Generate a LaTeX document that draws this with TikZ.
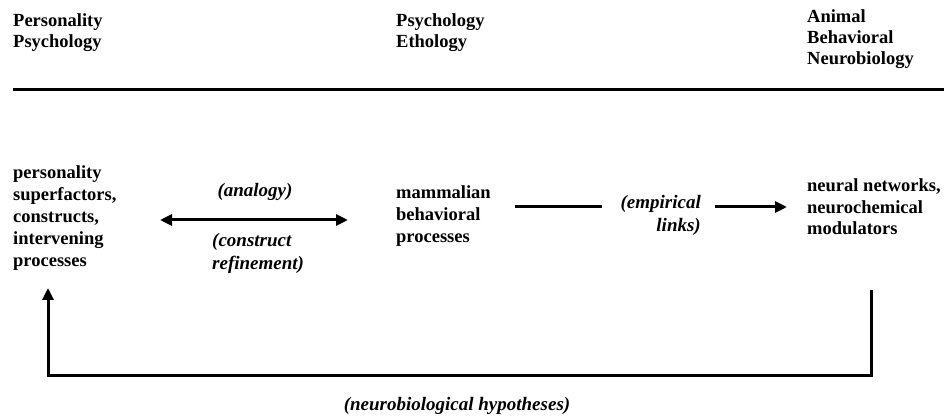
\documentclass[tikz,border=0pt]{standalone}
\usepackage{fontspec}
\setmainfont{Liberation Serif}
\usetikzlibrary{arrows.meta}

\begin{document}
\begin{tikzpicture}[x=1pt,y=-1pt,
    txt/.style={font=\fontsize{18.5}{22}\selectfont\bfseries, align=left, anchor=base west, inner sep=0pt},
    hdr/.style={txt, font=\fontsize{18.5}{21}\selectfont\bfseries},
    lbl/.style={font=\fontsize{19}{23}\selectfont\bfseries\itshape, inner sep=0pt},
    conn/.style={line width=3pt},
    tip/.style={-{Triangle[length=12pt,width=11pt]}}]
  \useasboundingbox (0,0) rectangle (944,419);
  % column headings (base = last line)
  \node[hdr] (perspsy) at (13,48) {Personality\\Psychology};
  \node[hdr] (etho) at (396,48) {Psychology\\Ethology};
  \node[hdr] (neurobio) at (807,65) {Animal\\Behavioral\\Neurobiology};
  \coordinate (rulel) at (13,90);
  \coordinate (ruler) at (944,90);
  \draw[conn] (rulel) -- (ruler);
  % levels
  \node[txt] (pers) at (13,267)
    {personality\\superfactors,\\constructs,\\intervening\\processes};
  \node[txt] (mamm) at (396,243)
    {mammalian\\behavioral\\processes};
  \node[txt, font=\fontsize{18.5}{21.5}\selectfont\bfseries] (neur) at (807,235)
    {neural networks,\\neurochemical\\modulators};
  % links
  \node[lbl, anchor=base] (analogy) at (255,197) {(analogy)};
  \node[lbl, anchor=base west, align=left] (refine) at (212,270) {(construct\\refinement)};
  \node[lbl, anchor=base east, align=right] (empir) at (701,232) {(empirical\\links)};
  \node[lbl, anchor=base] (hypo) at (457,410) {(neurobiological hypotheses)};
  \coordinate (anl) at (160,220);
  \coordinate (anr) at (348,220);
  \coordinate (ema) at (515,207);
  \coordinate (emb) at (602,207);
  \coordinate (emc) at (715,207);
  \coordinate (emd) at (787,207);
  \coordinate (fbtop) at (871,290);
  \coordinate (fbend) at (48,288);
  \draw[conn, {Triangle[length=12pt,width=11pt]}-{Triangle[length=12pt,width=11pt]}] (anl) -- (anr);
  \draw[conn] (ema) -- (emb);
  \draw[conn, tip] (emc) -- (emd);
  \draw[conn, tip] (fbtop) -- (fbtop |- 0,375) -| (fbend);
\end{tikzpicture}
\end{document}
